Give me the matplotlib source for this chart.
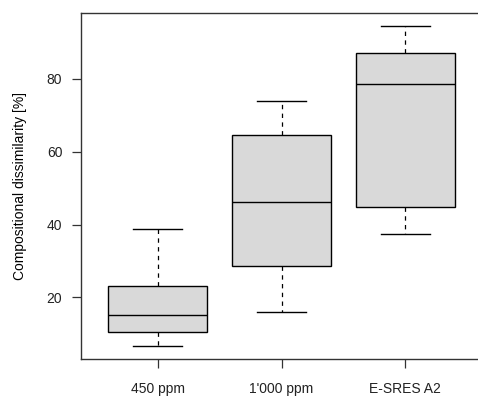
import matplotlib.pyplot as plt

plt.rcParams['font.family'] = ['Liberation Sans', 'DejaVu Sans']

# Box statistics
groups = ["450 ppm", "1'000 ppm", "E-SRES A2"]
whisker_low = [6.6, 15.9, 37.3]
q1 = [10.6, 28.6, 44.7]
median = [15.2, 46.1, 78.7]
q3 = [23.2, 64.6, 87.1]
whisker_high = [38.7, 73.9, 94.6]

stats = []
for i, name in enumerate(groups):
    stats.append({
        "label": name,
        "whislo": whisker_low[i],
        "q1": q1[i],
        "med": median[i],
        "q3": q3[i],
        "whishi": whisker_high[i],
        "fliers": [],
    })

fig = plt.figure(figsize=(4.78, 3.97), dpi=100)
ax = fig.add_axes([81 / 478, 38 / 397, 401 / 478, 346 / 397])

ax.bxp(
    stats,
    positions=[1, 2, 3],
    widths=0.8,
    capwidths=0.4,
    patch_artist=True,
    showfliers=False,
    boxprops=dict(facecolor="#d9d9d9", edgecolor="black", linewidth=1.0),
    medianprops=dict(color="black", linewidth=1.0),
    whiskerprops=dict(color="black", linewidth=0.9, dashes=(3.5, 3.5)),
    capprops=dict(color="black", linewidth=1.0),
)

ax.set_xlim(0.38, 3.62)
ax.set_ylim(3.08, 98.1)
ax.set_yticks([20, 40, 60, 80])
ax.set_ylabel("Compositional dissimilarity [%]", fontsize=10, labelpad=14)

for s in ax.spines.values():
    s.set_color("#333333")
    s.set_linewidth(1.0)
ax.tick_params(direction="out", length=6.5, width=0.9, color="#333333",
               labelsize=10, labelcolor="#222222", pad=7)
ax.tick_params(axis="x", pad=10)

fig.savefig("out.png", dpi=100)
